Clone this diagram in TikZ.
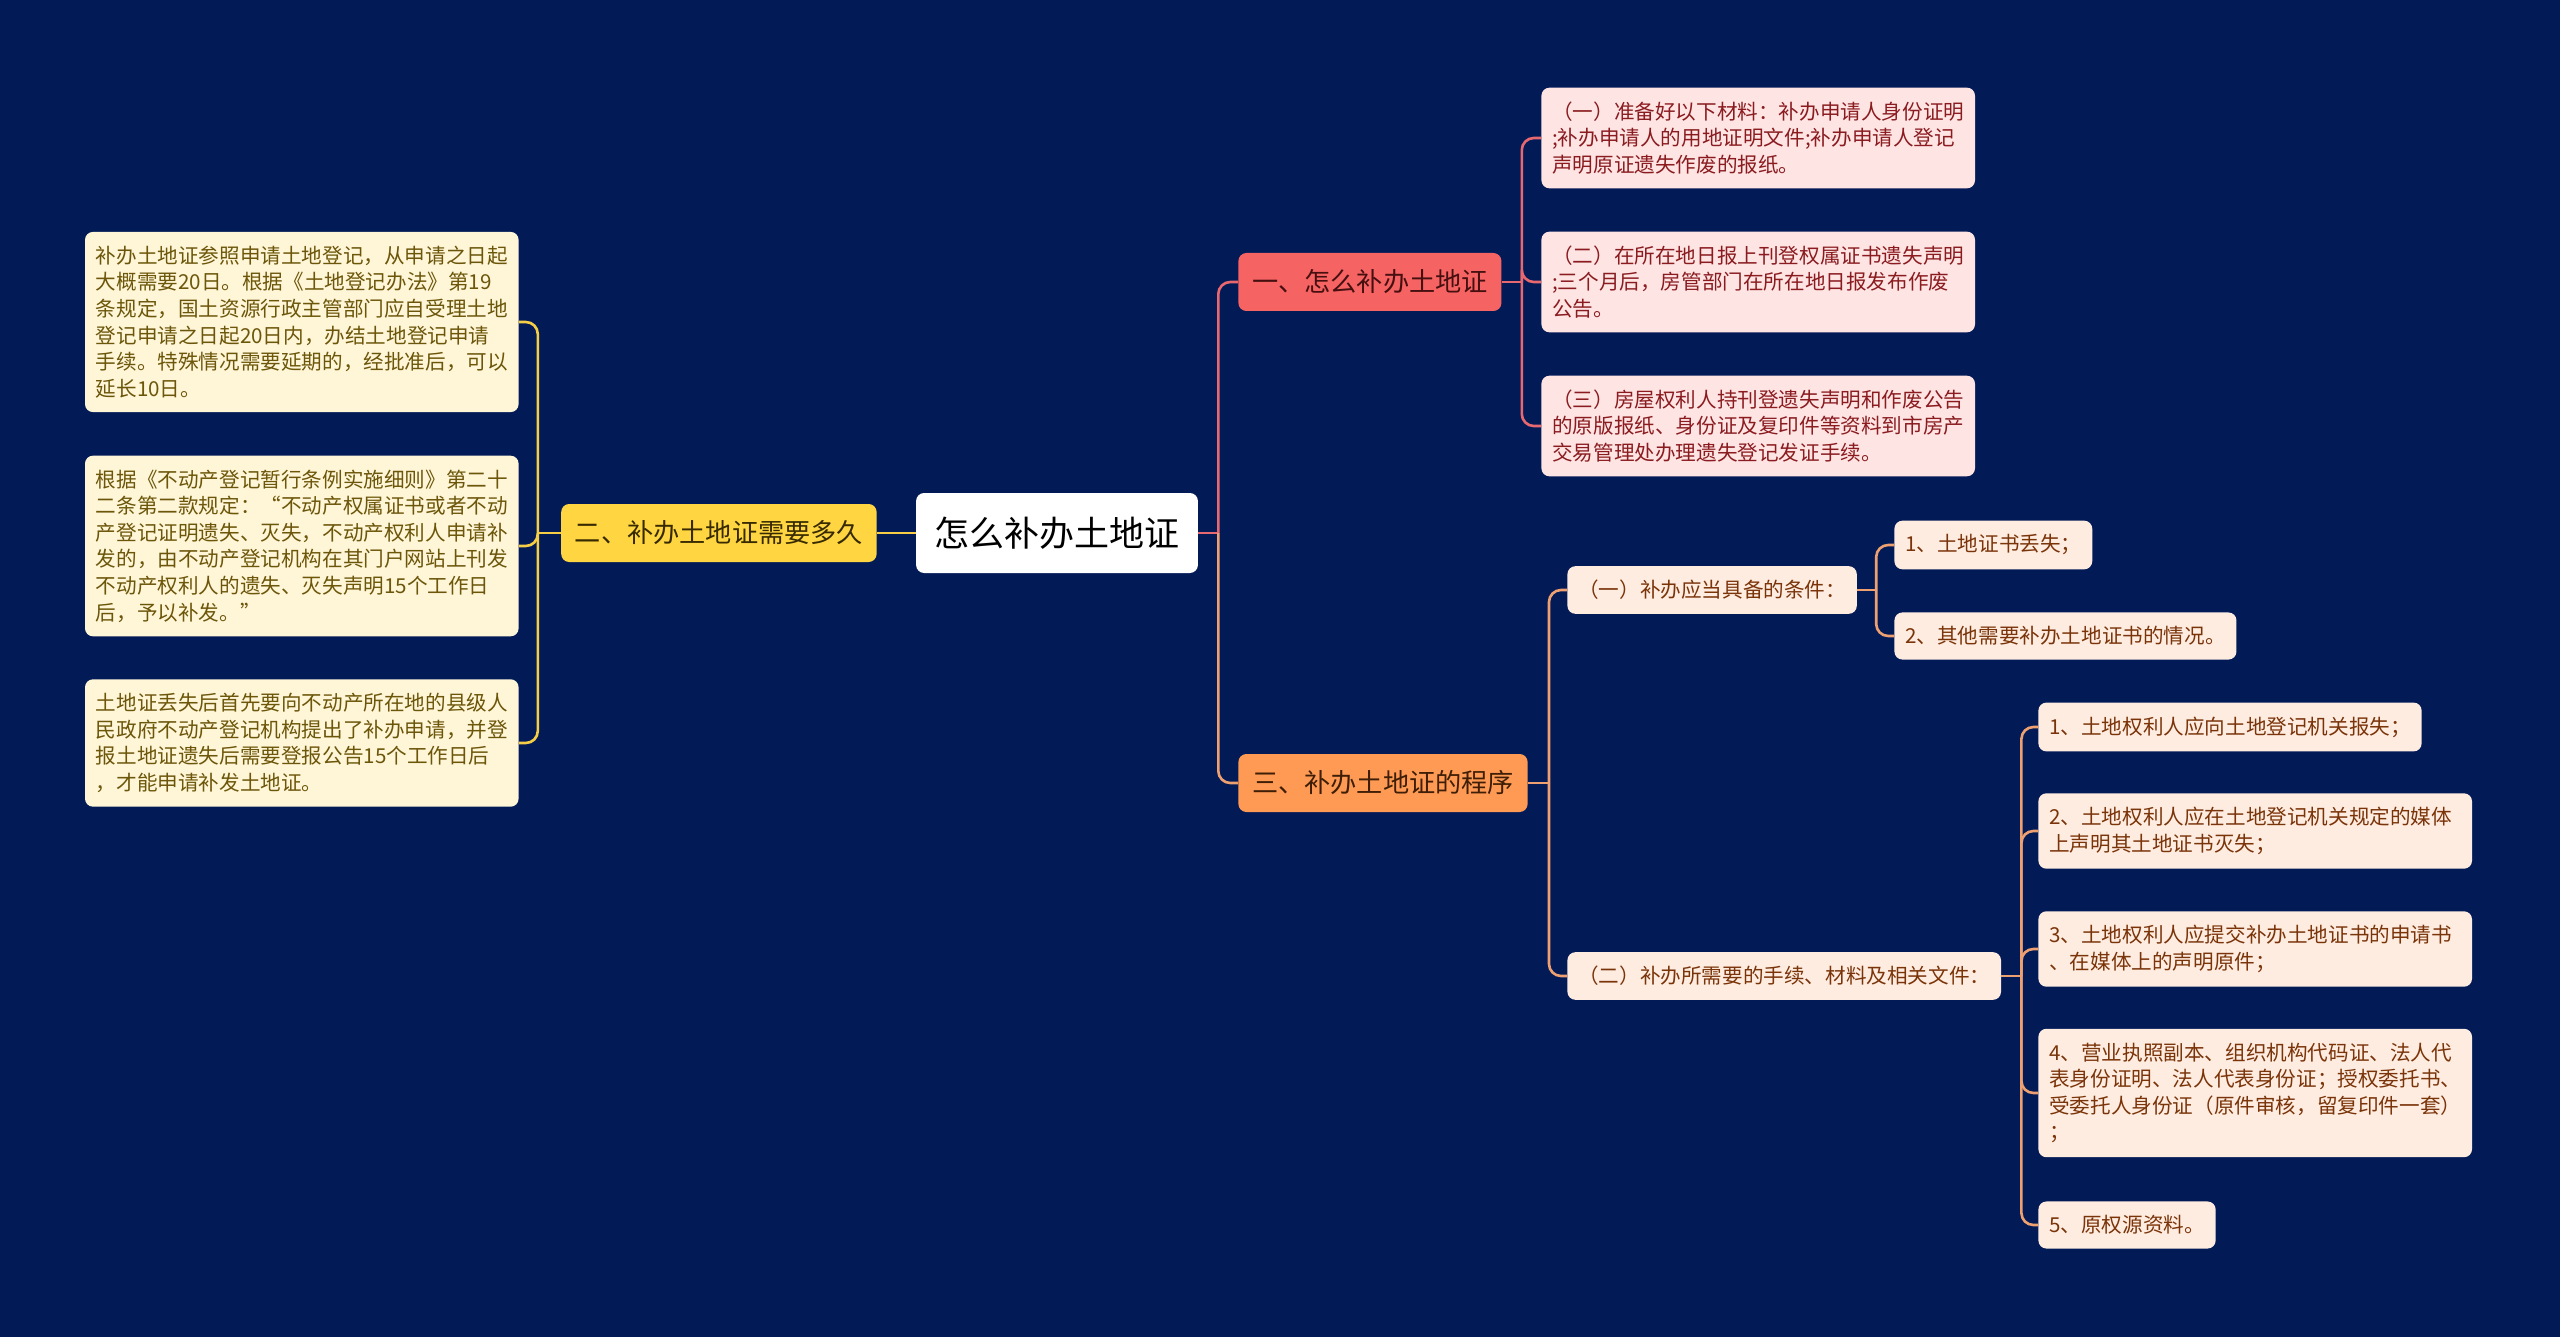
\documentclass[tikz,border=0pt]{standalone}
\usepackage{fontspec}
\setmainfont{Noto Sans CJK SC}
\usepackage{tikz}
\usetikzlibrary{calc}

\definecolor{bgnavy}{RGB}{2,27,87}
\definecolor{redfill}{RGB}{246,99,99}
\definecolor{redline}{RGB}{232,104,112}
\definecolor{redtext}{RGB}{70,16,16}
\definecolor{pinkfill}{RGB}{255,228,228}
\definecolor{pinktext}{RGB}{138,28,32}
\definecolor{orangefill}{RGB}{255,154,84}
\definecolor{orangeline}{RGB}{238,160,112}
\definecolor{orangetext}{RGB}{62,30,6}
\definecolor{peachfill}{RGB}{255,236,224}
\definecolor{peachtext}{RGB}{122,52,10}
\definecolor{goldfill}{RGB}{255,214,66}
\definecolor{goldline}{RGB}{246,206,70}
\definecolor{goldtext}{RGB}{56,42,0}
\definecolor{creamfill}{RGB}{255,246,216}
\definecolor{creamtext}{RGB}{108,86,10}

\tikzset{
  box/.style={rounded corners=4pt, inner xsep=5.4pt, inner ysep=7pt, align=left,
    font=\fontsize{10.3}{13.3}\selectfont},
  wrapbox/.style={box, text width=206pt},
  branch/.style={rounded corners=4pt, inner xsep=6.8pt, minimum height=29pt,
    font=\fontsize{13.1}{15}\selectfont},
  rootbox/.style={fill=white, rounded corners=4pt, inner xsep=9.2pt, minimum height=40pt,
    text=black, font=\fontsize{17.5}{20}\selectfont},
  leftleaf/.style={wrapbox, fill=creamfill, text=creamtext, anchor=east},
  redleaf/.style={wrapbox, fill=pinkfill, text=pinktext, anchor=west},
  peachleaf/.style={box, fill=peachfill, text=peachtext, anchor=west},
  peachwrap/.style={wrapbox, fill=peachfill, text=peachtext, anchor=west},
  link/.style={line width=1.3pt, rounded corners=6pt},
  redlink/.style={link, draw=redline},
  orangelink/.style={link, draw=orangeline},
  goldlink/.style={link, draw=goldline}
}

\begin{document}
\begin{tikzpicture}[x=0.5pt,y=0.5pt,yscale=-1,xscale=1]
\path[use as bounding box, fill=bgnavy] (0,0) rectangle (2560,1337);

% Text Node
\node[rootbox] (root) at (1057,533) {怎么补办土地证};
\node[branch, fill=goldfill, text=goldtext, anchor=east] (howlong) at (877,533) {二、补办土地证需要多久};
\node[branch, fill=redfill, text=redtext, anchor=west] (howto) at (1238,282) {一、怎么补办土地证};
\node[branch, fill=orangefill, text=orangetext, anchor=west] (steps) at (1238,783) {三、补办土地证的程序};

% Left leaves
\node[leftleaf] (lone) at (519,322) {补办土地证参照申请土地登记，从申请之日起\\大概需要20日。根据《土地登记办法》第19\\条规定，国土资源行政主管部门应自受理土地\\登记申请之日起20日内，办结土地登记申请\\手续。特殊情况需要延期的，经批准后，可以\\延长10日。};
\node[leftleaf] (ltwo) at (519,546) {根据《不动产登记暂行条例实施细则》第二十\\二条第二款规定：“不动产权属证书或者不动\\产登记证明遗失、灭失，不动产权利人申请补\\发的，由不动产登记机构在其门户网站上刊发\\不动产权利人的遗失、灭失声明15个工作日\\后，予以补发。”};
\node[leftleaf] (lthree) at (519,743) {土地证丢失后首先要向不动产所在地的县级人\\民政府不动产登记机构提出了补办申请，并登\\报土地证遗失后需要登报公告15个工作日后\\，才能申请补发土地证。};

% Red leaves
\node[redleaf] (rone) at (1541,138) {（一）准备好以下材料：补办申请人身份证明\\;补办申请人的用地证明文件;补办申请人登记\\声明原证遗失作废的报纸。};
\node[redleaf] (rtwo) at (1541,282) {（二）在所在地日报上刊登权属证书遗失声明\\;三个月后，房管部门在所在地日报发布作废\\公告。};
\node[redleaf] (rthree) at (1541,426) {（三）房屋权利人持刊登遗失声明和作废公告\\的原版报纸、身份证及复印件等资料到市房产\\交易管理处办理遗失登记发证手续。};

% Orange leaves
\node[peachleaf] (cond) at (1567,590) {（一）补办应当具备的条件：};
\node[peachleaf] (condone) at (1894,545) {1、土地证书丢失；};
\node[peachleaf] (condtwo) at (1894,636) {2、其他需要补办土地证书的情况。};
\node[peachleaf] (docs) at (1567,976) {（二）补办所需要的手续、材料及相关文件：};
\node[peachleaf] (docone) at (2038,727) {1、土地权利人应向土地登记机关报失；};
\node[peachwrap] (doctwo) at (2038,831) {2、土地权利人应在土地登记机关规定的媒体\\上声明其土地证书灭失；};
\node[peachwrap] (docthree) at (2038,949) {3、土地权利人应提交补办土地证书的申请书\\、在媒体上的声明原件；};
\node[peachwrap] (docfour) at (2038,1093) {4、营业执照副本、组织机构代码证、法人代\\表身份证明、法人代表身份证；授权委托书、\\受委托人身份证（原件审核，留复印件一套）\\；};
\node[peachleaf] (docfive) at (2038,1225) {5、原权源资料。};

%Straight Lines
\draw[goldlink] (root.west) -- (howlong.east);
\draw[goldlink] (howlong.west) -- ++(-23,0) coordinate (leftfork);
\foreach \n in {lone,ltwo,lthree}
  \draw[goldlink] (leftfork) |- (\n.east);

\draw[redlink] (root.east) -- ++(20,0) coordinate (rootfork);
\draw[redlink] (rootfork) |- (howto.west);
\draw[orangelink] (rootfork) |- (steps.west);

\draw[redlink] (howto.east) -- ++(20,0) coordinate (howtofork);
\foreach \n in {rone,rtwo,rthree}
  \draw[redlink] (howtofork) |- (\n.west);

\draw[orangelink] (steps.east) -- ++(21,0) coordinate (stepsfork);
\foreach \n in {cond,docs}
  \draw[orangelink] (stepsfork) |- (\n.west);

\draw[orangelink] (cond.east) -- ++(19,0) coordinate (condfork);
\foreach \n in {condone,condtwo}
  \draw[orangelink] (condfork) |- (\n.west);

\draw[orangelink] (docs.east) -- ++(20,0) coordinate (docsfork);
\foreach \n in {docone,doctwo,docthree,docfour,docfive}
  \draw[orangelink] (docsfork) |- (\n.west);

\end{tikzpicture}
\end{document}
